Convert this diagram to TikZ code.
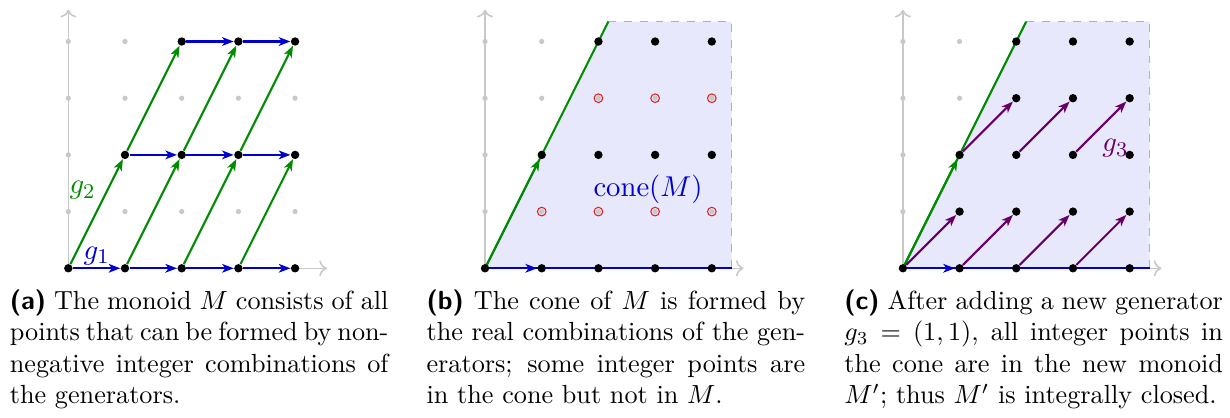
\documentclass[tikz,border=0pt]{standalone}
\usepackage{tikz}
\usetikzlibrary{positioning, arrows.meta, calc}
\definecolor{genOne}{rgb}{0,0,0.8}
\definecolor{genTwo}{rgb}{0,0.55,0}
\definecolor{genThree}{rgb}{0.4,0,0.4}
\definecolor{coneFill}{HTML}{E8E8FC}
\definecolor{coneEdge}{HTML}{A8A8F4}
\definecolor{latGray}{HTML}{C8C8C8}
\definecolor{holeRed}{HTML}{E02020}
\begin{document}
\begin{tikzpicture}[x=0.7606cm, y=0.7606cm,
  axis/.style={draw=latGray, semithick, ->},
  lat/.style={circle, fill=latGray, inner sep=0pt, minimum size=2pt},
  pt/.style={circle, fill=black, inner sep=0pt, minimum size=3.2pt},
  hole/.style={circle, draw=holeRed, thin, inner sep=0pt, minimum size=3.3pt},
  vec/.style={thick, -{Stealth[length=4.4pt, width=3.3pt, inset=1.2pt]}},
  captext/.style={anchor=north west, inner sep=0pt, text width=144.5pt, align=justify, font=\fontsize{10}{12}\selectfont},
  lbl/.style={font=\fontsize{11.4}{13}\selectfont}]
\useasboundingbox (-1.205,-2.623) rectangle (20.49,4.732);
% (a) the monoid
\begin{scope}
\coordinate (a-o) at (0,0); \coordinate (a-xe) at (4.56,0); \coordinate (a-ye) at (0,4.56);
\draw[axis] (a-o) -- (a-xe); \draw[axis] (a-o) -- (a-ye);
\foreach \x in {0,...,4} \foreach \y in {0,...,4} \node[lat] (a-g-\x-\y) at (\x,\y) {};
\foreach \x/\y in {0/0,1/0,2/0,3/0,4/0,1/2,2/2,3/2,4/2,2/4,3/4,4/4} \node[pt] (a-\x-\y) at (\x,\y) {};
\draw[vec, genOne] (a-0-0) -- (a-1-0) node[midway, above, inner sep=1pt, lbl, text=genOne] {$g_1$};
\foreach \x/\y in {1/0,2/0,3/0,1/2,2/2,3/2,2/4,3/4} {\pgfmathtruncatemacro\nx{\x+1}
  \draw[vec, genOne] (a-\x-\y) -- (a-\nx-\y);}
\draw[vec, genTwo] (a-0-0) -- (a-1-2) node[pos=0.7, anchor=east, inner sep=0pt, xshift=-4pt, lbl, text=genTwo] {$g_2$};
\foreach \x/\y in {1/0,2/0,3/0,1/2,2/2,3/2} {\pgfmathtruncatemacro\nx{\x+1}\pgfmathtruncatemacro\ny{\y+2}
  \draw[vec, genTwo] (a-\x-\y) -- (a-\nx-\ny);}
\node[captext] (a-cap) at (-1.04,-0.37) {\textbf{\sffamily (a)} The monoid $M$ consists of all\linebreak points that can be formed by non-\linebreak negative integer combinations of\linebreak the generators.};
\end{scope}
% (b) the cone
\begin{scope}[shift={(7.35,0)}]
\coordinate (b-o) at (0,0); \coordinate (b-xe) at (4.56,0); \coordinate (b-ye) at (0,4.56);
\coordinate (b-top) at (2.175,4.35); \coordinate (b-tr) at (4.35,4.35); \coordinate (b-br) at (4.35,0);
\fill[coneFill] (b-o) -- (b-top) -- (b-tr) -- (b-br) -- cycle;
\draw[coneEdge, dashed] (b-top) -- (b-tr) -- (b-br);
\draw[axis] (b-o) -- (b-xe); \draw[axis] (b-o) -- (b-ye);
\foreach \x in {0,...,4} \foreach \y in {0,...,4} \node[lat] (b-g-\x-\y) at (\x,\y) {};
\foreach \x/\y in {1/1,2/1,3/1,4/1,2/3,3/3,4/3} \node[hole] (b-h-\x-\y) at (\x,\y) {};
\draw[thick, genTwo] (b-o) -- (b-top);
\draw[thick, genOne] (b-o) -- (b-br);
\foreach \x/\y in {0/0,1/0,2/0,3/0,4/0,1/2,2/2,3/2,4/2,2/4,3/4,4/4} \node[pt] (b-\x-\y) at (\x,\y) {};
\draw[vec, genTwo] (b-0-0) -- (b-1-2);
\draw[vec, genOne] (b-0-0) -- (b-1-0);
\node[lbl, text=genOne] (b-lbl) at (2.875,1.40) {$\mathrm{cone}(M)$};
\node[captext] (b-cap) at (-1.04,-0.37) {\textbf{\sffamily (b)} The cone of $M$ is formed by\linebreak the real combinations of the gen-\linebreak erators; some integer points are\linebreak in the cone but not in $M$.};
\end{scope}
% (c) the closure
\begin{scope}[shift={(14.72,0)}]
\coordinate (c-o) at (0,0); \coordinate (c-xe) at (4.56,0); \coordinate (c-ye) at (0,4.56);
\coordinate (c-top) at (2.175,4.35); \coordinate (c-tr) at (4.35,4.35); \coordinate (c-br) at (4.35,0);
\fill[coneFill] (c-o) -- (c-top) -- (c-tr) -- (c-br) -- cycle;
\draw[coneEdge, dashed] (c-top) -- (c-tr) -- (c-br);
\draw[axis] (c-o) -- (c-xe); \draw[axis] (c-o) -- (c-ye);
\foreach \x in {0,...,4} \foreach \y in {0,...,4} \node[lat] (c-g-\x-\y) at (\x,\y) {};
\draw[thick, genTwo] (c-o) -- (c-top);
\draw[thick, genOne] (c-o) -- (c-br);
\foreach \x in {0,...,4} \foreach \y in {0,...,4} {\ifnum\y>\numexpr2*\x\relax\else\node[pt] (c-\x-\y) at (\x,\y) {};\fi}
\draw[vec, genTwo] (c-0-0) -- (c-1-2);
\draw[vec, genOne] (c-0-0) -- (c-1-0);
\draw[vec, genThree] (c-3-2) -- (c-4-3) node[midway, anchor=north west, inner sep=0pt, yshift=-4.5pt, lbl, text=genThree] {$g_3$};
\foreach \x/\y in {0/0,1/0,2/0,3/0,1/2,2/2} {\pgfmathtruncatemacro\nx{\x+1}\pgfmathtruncatemacro\ny{\y+1}
  \draw[vec, genThree] (c-\x-\y) -- (c-\nx-\ny);}
\node[captext] (c-cap) at (-1.04,-0.37) {\textbf{\sffamily (c)} After adding a new generator\linebreak $g_3=(1,1)$, all integer points in\linebreak the cone are in the new monoid\linebreak $M'$; thus $M'$ is integrally closed.};
\end{scope}
\end{tikzpicture}
\end{document}
